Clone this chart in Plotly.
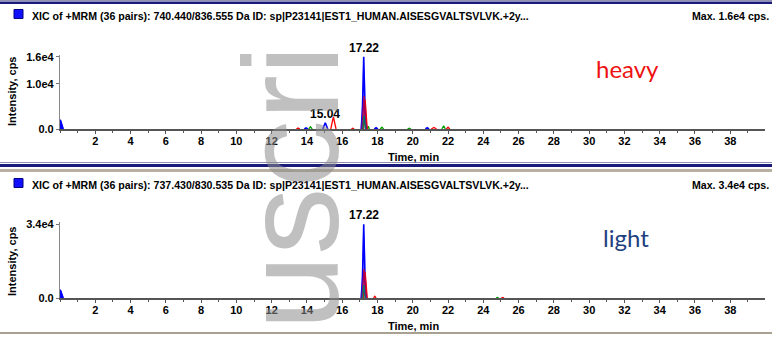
import plotly.graph_objects as go

W, H = 772, 338

# ---------------- data ----------------
TIME_TICKS = [2, 4, 6, 8, 10, 12, 14, 16, 18, 20, 22, 24, 26, 28, 30, 32, 34, 36, 38]
X_MAX = 39.97

heavy_title = "XIC of +MRM (36 pairs): 740.440/836.555 Da ID: sp|P23141|EST1_HUMAN.AISESGVALTSVLVK.+2y..."
light_title = "XIC of +MRM (36 pairs): 737.430/830.535 Da ID: sp|P23141|EST1_HUMAN.AISESGVALTSVLVK.+2y..."
heavy_max = "Max. 1.6e4 cps."
light_max = "Max. 3.4e4 cps."

heavy_yticks = [0, 10000, 16000]
heavy_yticktext = ["0.0", "1.0e4", "1.6e4"]
light_yticks = [0, 34000]
light_yticktext = ["0.0", "3.4e4"]

heavy_peaks_t = [17.22, 15.04]
heavy_peaks_i = [16000, 1400]
heavy_peaks_lbl = ["17.22", "15.04"]
light_peaks_t = [17.22]
light_peaks_i = [34000]
light_peaks_lbl = ["17.22"]

# heavy panel traces (None separates individual peaks)
h_fill_t = [17.02, 17.1, 17.16, 17.22, 17.3, 17.38, 17.45]
h_fill_i = [0, 2500, 12000, 15500, 11000, 2500, 0]
h_blue_t = [0, 0.03, 0.18, None, 13.85, 13.95, 14.05, None, 14.9, 15.04, 15.18, None, 17.08, 17.15, 17.22, 17.28, 17.36, None, 17.82, 17.92, 18.02, None, 20.72, 20.82, 20.92]
h_blue_i = [2000, 1900, 0, None, 0, 250, 0, None, 0, 1400, 0, None, 0, 5000, 16000, 6000, 0, None, 0, 300, 0, None, 0, 300, 0]
h_maroon_t = [17.12, 17.24, 17.34]
h_maroon_i = [0, 7300, 0]
h_red_t = [13.4, 13.5, 13.6, None, 15.35, 15.5, 15.65, None, 16.52, 16.6, 16.68, None, 17.18, 17.3, 17.42, None, 21.05, 21.2, 21.35, None, 21.9, 22.0, 22.1]
h_red_i = [0, 200, 0, None, 0, 2700, 0, None, 0, 150, 0, None, 0, 6500, 0, None, 0, 350, 0, None, 0, 400, 0]
h_teal_t = [17.15, 17.24, 17.33]
h_teal_i = [0, 3000, 0]
h_green_t = [14.1, 14.2, 14.3, None, 17.2, 17.3, 17.4, None, 17.42, 17.48, 17.54, None, 18.15, 18.25, 18.35, None, 19.7, 19.8, 19.9, None, 21.65, 21.75, 21.85]
h_green_i = [0, 500, 0, None, 0, 2200, 0, None, 0, 600, 0, None, 0, 400, 0, None, 0, 150, 0, None, 0, 700, 0]

# light panel traces
l_fill_t = [17.02, 17.1, 17.16, 17.22, 17.3, 17.38, 17.45]
l_fill_i = [0, 5000, 26000, 32000, 22000, 4000, 0]
l_blue_t = [0, 0.03, 0.18, None, 17.08, 17.15, 17.22, 17.28, 17.36]
l_blue_i = [3700, 3500, 0, None, 0, 10000, 34000, 12000, 0]
l_maroon_t = [17.12, 17.24, 17.34]
l_maroon_i = [0, 13300, 0]
l_red_t = [17.18, 17.3, 17.42, None, 17.78, 17.85, 17.92, None, 25.02, 25.1, 25.18]
l_red_i = [0, 12000, 0, None, 0, 800, 0, None, 0, 300, 0]
l_teal_t = [17.14, 17.22, 17.3]
l_teal_i = [0, 6000, 0]
l_green_t = [17.2, 17.28, 17.36, None, 24.72, 24.8, 24.88]
l_green_i = [0, 3500, 0, None, 0, 250, 0]

# ---------------- layout helpers ----------------
def py(p):
    return 1 - p / H

def px(p):
    return p / W

FONT = "Liberation Sans Narrow, Liberation Sans, Arial, sans-serif"

fig = go.Figure()

def add_panel(xa, ya, fill_t, fill_i, series):
    fig.add_trace(go.Scatter(x=fill_t, y=fill_i, mode="lines", fill="tozeroy",
                             line=dict(color="rgba(110,110,255,0.55)", width=0),
                             fillcolor="rgba(120,120,255,0.55)", xaxis=xa, yaxis=ya,
                             hoverinfo="skip", showlegend=False))
    for t, i, c, w in series:
        fig.add_trace(go.Scatter(x=t, y=i, mode="lines", line=dict(color=c, width=w),
                                 connectgaps=False, xaxis=xa, yaxis=ya, showlegend=False))

add_panel("x", "y", h_fill_t, h_fill_i, [
    (h_green_t, h_green_i, "#00a000", 1.3),
    (h_blue_t, h_blue_i, "#0000ff", 1.6),
    (h_red_t, h_red_i, "#ff0000", 1.3),
    (h_maroon_t, h_maroon_i, "#a0005a", 1.5),
    (h_teal_t, h_teal_i, "#007070", 1.3),
])
add_panel("x2", "y2", l_fill_t, l_fill_i, [
    (l_green_t, l_green_i, "#00a000", 1.3),
    (l_blue_t, l_blue_i, "#0000ff", 1.6),
    (l_red_t, l_red_i, "#ff0000", 1.3),
    (l_maroon_t, l_maroon_i, "#a0005a", 1.5),
    (l_teal_t, l_teal_i, "#007070", 1.3),
])
# fill under start wedge
fig.add_trace(go.Scatter(x=h_blue_t[:3], y=h_blue_i[:3], mode="lines", fill="tozeroy",
                         line=dict(color="#0000ff", width=1), fillcolor="#0000ff",
                         xaxis="x", yaxis="y", showlegend=False))
fig.add_trace(go.Scatter(x=l_blue_t[:3], y=l_blue_i[:3], mode="lines", fill="tozeroy",
                         line=dict(color="#0000ff", width=1), fillcolor="#0000ff",
                         xaxis="x2", yaxis="y2", showlegend=False))

tickfont = dict(family=FONT, size=11, color="black", weight="bold")
xcommon = dict(range=[0, X_MAX], tickvals=TIME_TICKS, ticks="outside", ticklen=3,
               tickcolor="#555", showline=True, linecolor="#555", linewidth=1.5,
               showgrid=False, zeroline=False, tickfont=tickfont, layer="above traces",
               ticklabelstandoff=-2,
               minor=dict(dtick=1, tick0=0, ticks="outside", ticklen=2, tickcolor="#555"),
               domain=[px(60), px(765)], fixedrange=True)
ycommon = dict(ticks="outside", ticklen=3, tickcolor="#777", showline=True,
               linecolor="#888", linewidth=1.2, showgrid=False, zeroline=False,
               tickfont=tickfont, fixedrange=True, layer="above traces")

fig.update_layout(
    width=W, height=H, margin=dict(l=0, r=0, t=0, b=0, autoexpand=False),
    paper_bgcolor="white", plot_bgcolor="white",
    xaxis=dict(**xcommon, anchor="y"),
    yaxis=dict(**ycommon, range=[0, 16400], tickvals=heavy_yticks, ticktext=heavy_yticktext,
               domain=[py(129), py(55)], anchor="x"),
    xaxis2=dict(**xcommon, anchor="y2"),
    yaxis2=dict(**ycommon, range=[0, 35000], tickvals=light_yticks, ticktext=light_yticktext,
                domain=[py(298), py(222)], anchor="x2"),
)

ann = []
hdr = dict(family=FONT, size=10.6, color="black", weight="bold")
axfont = dict(family=FONT, size=11, color="black", weight="bold")

def pa(text, x, y, font, xanchor="center", **kw):
    ann.append(dict(text=text, x=px(x), y=py(y), xref="paper", yref="paper",
                    xanchor=xanchor, yanchor="middle", showarrow=False, font=font, **kw))

for title, mx, yc in [(heavy_title, heavy_max, 16), (light_title, light_max, 185)]:
    pa(title, 30, yc, hdr, xanchor="left")
    pa(mx, 771, yc, hdr, xanchor="right")
for yc in [92, 262]:
    pa("Intensity, cps", 12, yc, axfont, textangle=-90)
for yc in [157, 326]:
    pa("Time, min", 413, yc, axfont)

lblfont = dict(family=FONT, size=12, color="black", weight="bold")
for t, i, l in zip(heavy_peaks_t, heavy_peaks_i, heavy_peaks_lbl):
    ann.append(dict(text=l, x=t, y=i, xref="x", yref="y", yanchor="bottom",
                    showarrow=False, font=lblfont, yshift=0))
for t, i, l in zip(light_peaks_t, light_peaks_i, light_peaks_lbl):
    ann.append(dict(text=l, x=t, y=i, xref="x2", yref="y2", yanchor="bottom",
                    showarrow=False, font=lblfont, yshift=0))
pa("heavy", 627, 68, dict(family="Lato, sans-serif", size=24, color="#ee1111"))
pa("light", 626, 237, dict(family="Lato, sans-serif", size=24, color="#1f3f7f"))
# watermark
pa("uscri", 292, 188, dict(family="Liberation Sans, sans-serif", size=135,
                           color="rgba(140,140,140,0.55)"), textangle=-90)
fig.update_layout(annotations=ann)

shapes = []
def hline(y0, y1, color):
    shapes.append(dict(type="rect", xref="paper", yref="paper", x0=0, x1=1,
                       y0=py(y1), y1=py(y0), fillcolor=color, line=dict(width=0), layer="above"))
hline(0, 1, "#9090b0")
hline(1.5, 4, "#1a1a7a")
hline(162, 163, "#9090b0")
hline(164, 167, "#1a1a7a")
hline(169, 172, "#b8b0a0")
hline(332, 334, "#a8a090")
for yc in [14, 183]:
    shapes.append(dict(type="rect", xref="paper", yref="paper", x0=px(14), x1=px(23),
                       y0=py(yc + 4.5), y1=py(yc - 4.5), fillcolor="#1010ff",
                       line=dict(color="#000080", width=1)))
fig.update_layout(shapes=shapes)

fig.write_html("out.html")
